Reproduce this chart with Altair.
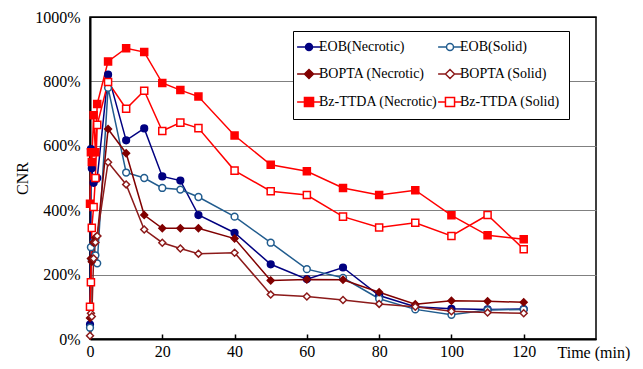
import altair as alt
import pandas as pd

times = [0, 0.25, 0.5, 1, 1.5, 2, 5, 10, 15, 20, 25, 30, 40, 50, 60, 70, 80, 90, 100, 110, 120]

eob_necrotic = [45, 590, 530, 485, 495, 500, 821, 617, 654, 505, 492, 385, 330, 232, 186, 222, 135, 100, 94, 92, 93]
eob_solid = [35, 285, 245, 300, 260, 235, 780, 517, 500, 469, 464, 441, 380, 299, 217, 190, 125, 92, 75, 90, 92]
bopta_necrotic = [65, 250, 240, 300, 315, 320, 652, 577, 385, 344, 344, 344, 312, 182, 185, 184, 145, 108, 119, 117, 114]
bopta_solid = [10, 80, 70, 250, 300, 320, 549, 480, 340, 299, 281, 265, 268, 138, 132, 121, 109, 100, 86, 82, 80]
bz_necrotic = [420, 580, 550, 695, 580, 730, 862, 903, 891, 795, 773, 753, 632, 541, 521, 469, 447, 462, 384, 322, 310]
bz_solid = [100, 176, 345, 410, 500, 665, 798, 715, 771, 646, 672, 655, 523, 459, 447, 380, 346, 361, 320, 385, 279]

series_names = ["EOB(Necrotic)", "EOB(Solid)", "BOPTA (Necrotic)", "BOPTA (Solid)",
                "Bz-TTDA (Necrotic)", "Bz-TTDA (Solid)"]
series_values = [eob_necrotic, eob_solid, bopta_necrotic, bopta_solid, bz_necrotic, bz_solid]

# legend fills column by column: necrotic column first, then solid column
legend_order = ["EOB(Necrotic)", "BOPTA (Necrotic)", "Bz-TTDA (Necrotic)",
                "EOB(Solid)", "BOPTA (Solid)", "Bz-TTDA (Solid)"]

x_ticks = [0, 20, 40, 60, 80, 100, 120]
y_ticks = [0, 200, 400, 600, 800, 1000]

colors = ["#000080", "#215c8e", "#800000", "#8c1a1a", "#ff0000", "#ff0000"]
fills = ["#000080", "white", "#800000", "white", "#ff0000", "white"]
shapes = ["circle", "circle", "diamond", "diamond", "square", "square"]
sizes = [45, 50, 70, 55, 90, 70]

circle_path = "M-3.4,0L-1,0M1,0L3.4,0M-1,0A1,1,0,1,1,1,0A1,1,0,1,1,-1,0Z"
diamond_path = "M-3.4,0L-1.3,0M1.3,0L3.4,0M-1.3,0L0,-1.3L1.3,0L0,1.3Z"
square_path = "M-3.4,0L-1.3,0M1.3,0L3.4,0M-1.3,-1.3L1.3,-1.3L1.3,1.3L-1.3,1.3Z"
legend_shapes = [circle_path, circle_path, diamond_path, diamond_path, square_path, square_path]

rows = []
for name, vals in zip(series_names, series_values):
    for t, v in zip(times, vals):
        rows.append({"series": name, "time": t, "cnr": v})
df = pd.DataFrame(rows)
legend_df = pd.DataFrame({"series": series_names})

style = {n: (c, f, s) for n, c, f, s in zip(series_names, colors, fills, legend_shapes)}
leg_colors = [style[n][0] for n in legend_order]
leg_fills = [style[n][1] for n in legend_order]
leg_shapes = [style[n][2] for n in legend_order]

FONT = "Liberation Serif"

x_scale = alt.Scale(domain=[0, 140], nice=False, zero=False)
y_scale = alt.Scale(domain=[0, 1000], nice=False)

color_scale = alt.Scale(domain=series_names, range=colors)
fill_scale = alt.Scale(domain=series_names, range=fills)

x_main_axis = alt.Axis(
    values=x_ticks, orient="bottom", domain=True, domainColor="black", domainWidth=2,
    ticks=False, grid=False, labelFont=FONT, labelFontSize=16, labelColor="black",
    labelPadding=4, labelFlush=False, labelOverlap=False,
    title="Time (min)", titleFont=FONT, titleFontSize=16, titleFontWeight="normal",
    titleColor="black", titleX=467, titleY=18, titleAlign="left", titleBaseline="alphabetic",
)
x_tick_axis = alt.Axis(
    values=x_ticks[1:], orient="bottom", domain=False, labels=False, ticks=True,
    tickSize=5, tickColor="black", tickWidth=1.5, offset=-5, grid=False, title=None,
)
y_axis = alt.Axis(
    values=y_ticks, domain=True, domainColor="black", domainWidth=2, ticks=False,
    grid=True,
    gridColor={"condition": {"test": "datum.value === 0 || datum.value === 1000", "value": "black"},
               "value": "#808080"},
    gridWidth=1.2,
    labelFont=FONT, labelFontSize=16, labelColor="black", labelPadding=10,
    labelExpr="datum.value + '%'", labelFlush=False, labelOverlap=False,
    title="CNR", titleFont=FONT, titleFontSize=16, titleFontWeight="normal",
    titleColor="black", titleX=-68, titleY=161, titleAlign="center",
    titleBaseline="middle", titleAngle=270,
)

lines = alt.Chart(df).mark_line(strokeWidth=1.5).encode(
    x=alt.X("time:Q", scale=x_scale, axis=x_main_axis),
    y=alt.Y("cnr:Q", scale=y_scale, axis=y_axis),
    color=alt.Color("series:N", scale=color_scale, legend=None),
    detail="series:N",
)

points = alt.Chart(df).mark_point(filled=False, strokeWidth=1.5, opacity=1).encode(
    x=alt.X("time:Q", scale=x_scale, axis=x_tick_axis),
    y=alt.Y("cnr:Q", scale=y_scale, axis=y_axis),
    color=alt.Color("series:N", scale=color_scale, legend=None),
    fill=alt.Fill("series:N", scale=fill_scale, legend=None),
    shape=alt.Shape("series:N", scale=alt.Scale(domain=series_names, range=shapes), legend=None),
    size=alt.Size("series:N", scale=alt.Scale(domain=series_names, range=sizes), legend=None),
)

legend = alt.Legend(
    title=None, orient="none", legendX=203, legendY=14, columns=2,
    symbolSize=49, symbolStrokeWidth=1.5, symbolOpacity=1,
    labelFont=FONT, labelFontSize=14, labelColor="black", labelOffset=3, labelLimit=0,
    rowPadding=12, columnPadding=-3, padding=9,
    strokeColor="black", fillColor="white",
)

legend_layer = alt.Chart(legend_df).mark_point(filled=False, opacity=0).encode(
    color=alt.Color("series:N", scale=alt.Scale(domain=legend_order, range=leg_colors), legend=legend),
    fill=alt.Fill("series:N", scale=alt.Scale(domain=legend_order, range=leg_fills)),
    shape=alt.Shape("series:N", scale=alt.Scale(domain=legend_order, range=leg_shapes)),
)

chart = alt.layer(lines, points, legend_layer).resolve_scale(
    color="independent", fill="independent", shape="independent", size="independent"
).resolve_axis(x="independent").properties(
    width=506, height=322,
    padding={"left": 82, "top": 9, "right": 39, "bottom": 22},
    autosize=alt.AutoSizeParams(type="none"),
    background="white",
).configure_view(stroke="black", strokeWidth=1.5)

chart.save("out.html", embed_options={"renderer": "svg", "actions": False})
